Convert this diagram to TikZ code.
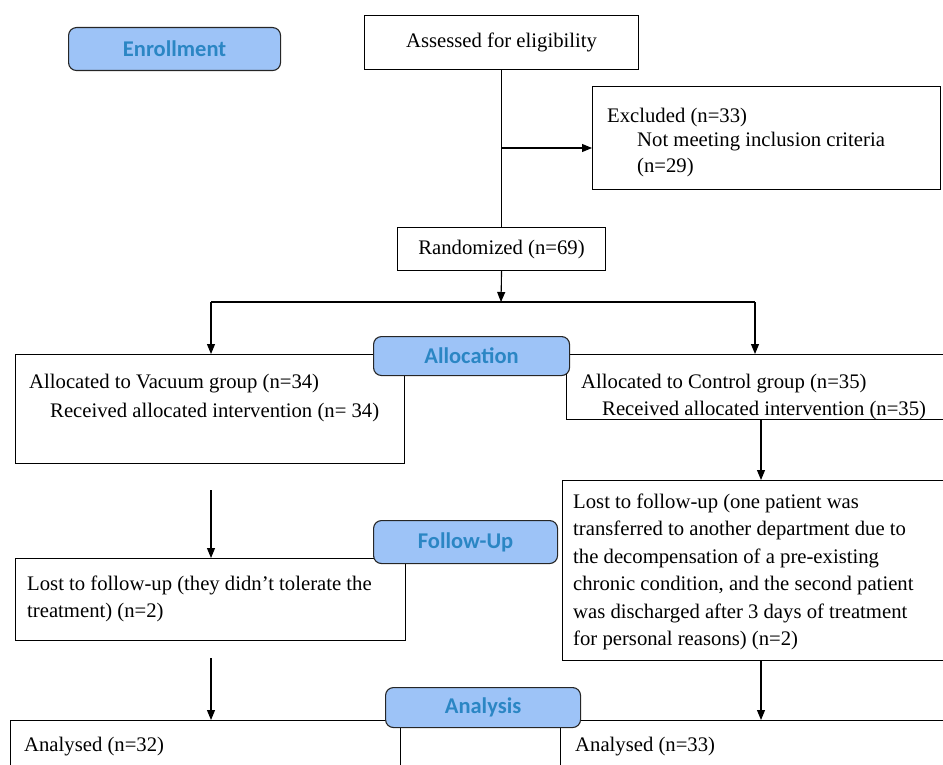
\documentclass[tikz,border=0pt]{standalone}
\usepackage{fontspec}
\setmainfont{Liberation Serif}
\newfontfamily\labfont{Carlito}
\usetikzlibrary{arrows.meta}
\definecolor{labfill}{HTML}{9DC3F7}
\definecolor{labtext}{HTML}{2B86C4}
\begin{document}
\begin{tikzpicture}[x=1pt,y=-1pt,
  box/.style={draw=black, line width=1.1pt, rectangle, inner sep=0pt, anchor=north west},
  lab/.style={draw=black!85, line width=1.1pt, fill=labfill, rounded corners=8pt, inner sep=0pt, anchor=north west, text=labtext, font=\labfont\bfseries\fontsize{22.5}{26}\selectfont},
  txt/.style={anchor=base west, inner sep=0pt, font=\fontsize{20.7}{27.5}\selectfont},
  ctxt/.style={inner sep=0pt, font=\fontsize{20.7}{27.5}\selectfont},
  line/.style={line width=1.1pt},
  arr/.style={line width=1.1pt, -{Triangle[length=10pt,width=8pt]}}]
\path[use as bounding box, clip] (0,0) rectangle (943,765);
% boxes
\node[box, minimum width=274pt, minimum height=54pt] (assessed) at (364,15) {};
\node[box, minimum width=348pt, minimum height=103pt] (excluded) at (592,86) {};
\node[box, minimum width=208pt, minimum height=43pt] (randomized) at (397,227) {};
\node[box, minimum width=389pt, minimum height=109pt] (allocL) at (15,354) {};
\node[box, minimum width=390pt, minimum height=65pt] (allocR) at (566,354) {};
\node[box, minimum width=390pt, minimum height=82pt] (lostL) at (15,558) {};
\node[box, minimum width=390pt, minimum height=180pt] (lostR) at (562,480) {};
\node[box, minimum width=390pt, minimum height=80pt] (anL) at (10,720) {};
\node[box, minimum width=390pt, minimum height=80pt] (anR) at (560,720) {};
% texts
\node[ctxt] (tAssessed) at (assessed.center) {Assessed for eligibility};
\node[txt] (tEx1) at (607,123) {Excluded (n=33)};
\node[txt] (tEx2) at (637,147) {Not meeting inclusion criteria};
\node[txt] (tEx3) at (637,173) {(n=29)};
\node[ctxt] (tRand) at (randomized.center) {Randomized (n=69)};
\node[txt] (tAL1) at (29,388) {Allocated to Vacuum group (n=34)};
\node[txt] (tAL2) at (50,417) {Received allocated intervention (n= 34)};
\node[txt] (tAR1) at (581,388) {Allocated to Control group (n=35)};
\node[txt] (tAR2) at (602,415) {Received allocated intervention (n=35)};
\node[txt, align=left] (tLR) at (573,645.5) {Lost to follow-up (one patient was\\transferred to another department due to\\the decompensation of a pre-existing\\chronic condition, and the second patient\\was discharged after 3 days of treatment\\for personal reasons) (n=2)};
\node[txt, align=left] (tLL) at (27,617.5) {Lost to follow-up (they didn’t tolerate the\\treatment) (n=2)};
\node[txt] (tAnL) at (24,751) {Analysed (n=32)};
\node[txt] (tAnR) at (575,751) {Analysed (n=33)};
% connectors
\coordinate (exj) at (501,148);
\coordinate (split) at (501,302);
\coordinate (sl) at (211,302);
\coordinate (sr) at (755,302);
\coordinate (fl) at (211,490);
\coordinate (al) at (211,658);
\coordinate (rr) at (761,0);
\draw[line] (assessed.south) -- (randomized.north);
\draw[arr] (exj) -- (exj -| excluded.west);
\draw[arr] (randomized.south) -- (split);
\draw[line] (sl) -- (sr);
\draw[arr] (sl) -- (sl |- allocL.north);
\draw[arr] (sr) -- (sr |- allocR.north);
\draw[arr] (fl) -- (fl |- lostL.north);
\draw[arr] (rr |- allocR.south) -- (rr |- lostR.north);
\draw[arr] (al) -- (al |- anL.north);
\draw[arr] (rr |- lostR.south) -- (rr |- anR.north);
% stage labels
\node[lab, minimum width=212pt, minimum height=43pt] (enroll) at (68,27) {Enrollment};
\node[lab, minimum width=196pt, minimum height=39pt] (alloc) at (373,336) {Allocation};
\node[lab, minimum width=184pt, minimum height=43pt] (follow) at (373,520) {Follow-Up};
\node[lab, minimum width=195pt, minimum height=40pt] (analysis) at (385,687) {Analysis};
\end{tikzpicture}
\end{document}
